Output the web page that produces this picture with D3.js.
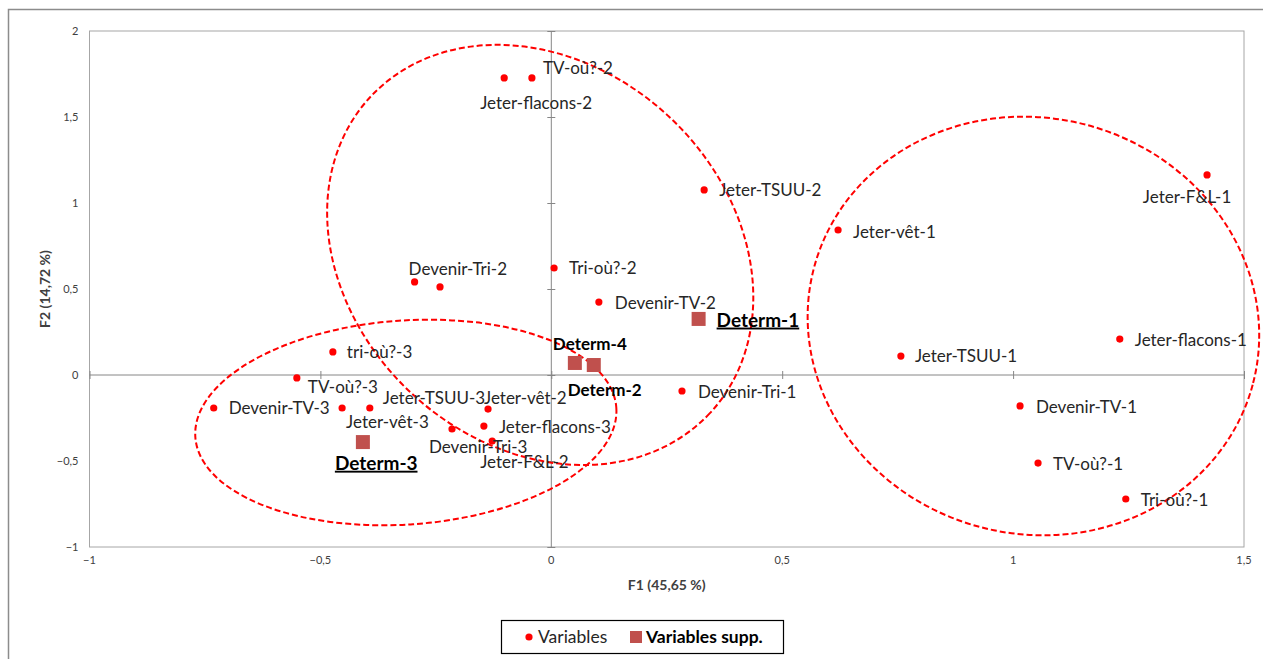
<!DOCTYPE html>
<html>
<head>
<meta charset="utf-8">
<script src="https://cdn.jsdelivr.net/npm/d3@7"></script>
<style>
  body { margin: 0; background: #fff; }
  text { font-family: Lato, "Open Sans", sans-serif; }
</style>
</head>
<body>
<div id="chart"></div>
<script>
// modalités actives
var names = [
    'Jeter-F&L-1', 'Jeter-vêt-1', 'Jeter-flacons-1', 'Jeter-TSUU-1',
    'Devenir-TV-1', 'TV-où?-1', 'Tri-où?-1', 'Devenir-Tri-1',
    'Jeter-TSUU-2', 'TV-où?-2', 'Jeter-flacons-2', 'Devenir-Tri-2',
    'Jeter-F&L-3', 'Tri-où?-2', 'Devenir-TV-2', 'tri-où?-3',
    'TV-où?-3', 'Devenir-TV-3', 'Jeter-vêt-3', 'Jeter-TSUU-3',
    'Jeter-vêt-2', 'Jeter-flacons-3', 'Devenir-Tri-3', 'Jeter-F&L-2'
];
var f1 = [
    1.420, 0.621, 1.231, 0.757,
    1.015, 1.054, 1.244, 0.283,
    0.331, -0.042, -0.102, -0.296,
    -0.241, 0.006, 0.103, -0.473,
    -0.551, -0.731, -0.453, -0.393,
    -0.137, -0.146, -0.215, -0.128
];
var f2 = [
    1.163, 0.843, 0.209, 0.110,
    -0.180, -0.512, -0.721, -0.093,
    1.076, 1.727, 1.727, 0.541,
    0.512, 0.622, 0.424, 0.134,
    -0.017, -0.192, -0.192, -0.192,
    -0.198, -0.297, -0.314, -0.384
];

// modalités supplémentaires
var supp_names = ['Determ-1', 'Determ-4', 'Determ-2', 'Determ-3'];
var supp_f1 = [0.319, 0.051, 0.092, -0.408];
var supp_f2 = [0.326, 0.070, 0.058, -0.390];

var x_ticks = [-1, -0.5, 0, 0.5, 1, 1.5];
var y_ticks = [-1, -0.5, 0, 0.5, 1, 1.5, 2];
var x_title = 'F1 (45,65 %)';
var y_title = 'F2 (14,72 %)';
var legend_labels = ['Variables', 'Variables supp.'];

// ellipses tracées à la main : centre (F1, F2)
var ell_f1 = [-0.024, -0.315, 1.044];
var ell_f2 = [0.698, -0.276, 0.285];

// placement des étiquettes (px) : dx, dy, ancrage
var label_pos = [
    [-20, 22, 'middle'], [15, 2, 'start'], [15, 1, 'start'], [14, 0, 'start'],
    [16, 1, 'start'], [15, 1, 'start'], [15, 1, 'start'], [16, 1, 'start'],
    [15, 0, 'start'], [11, -10, 'start'], [32, 25, 'middle'], [-6, -13, 'start'],
    null, [15, 0, 'start'], [16, 1, 'start'], [14, 0, 'start'],
    [11, 9, 'start'], [15, 0, 'start'], [4, 14, 'start'], [13, -10, 'start'],
    [-4, -11, 'start'], [15, 1, 'start'], [-23, 18, 'start'], [-12, 21, 'start']
];
var supp_label_pos = [
    [18, 1, 'start', true], [-22, -19, 'start', false],
    [-26, 25, 'start', false], [-28, 21, 'start', true]
];
// rayons (px) et rotation (deg)
var ell_shape = [[232, 189, 43], [211, 102, -4], [227, 208, 15]];

var chart_width = 1263;
var chart_height = 659;
var plot = { left: 89.5, right: 1244, top: 31, bottom: 547 };

var fr = d3.formatLocale({ decimal: ',', thousands: ' ', grouping: [3], currency: ['', ' €'] });
var tick_fmt = fr.format('~g');

var svg = d3.select('#chart')
    .append('svg')
    .attr('width', chart_width)
    .attr('height', chart_height);

// cadre extérieur
svg.append('rect')
    .attr('x', 8.5).attr('y', 9.5)
    .attr('width', 1300).attr('height', 700)
    .attr('fill', 'none')
    .attr('stroke', '#8c8c8c')
    .attr('stroke-width', 1.5);

var x_scale = d3.scaleLinear()
    .domain([-1, 1.5])
    .range([plot.left, plot.right]);

var y_scale = d3.scaleLinear()
    .domain([-1, 2])
    .range([plot.bottom, plot.top]);

// zone de tracé
svg.append('rect')
    .attr('x', plot.left).attr('y', plot.top)
    .attr('width', plot.right - plot.left)
    .attr('height', plot.bottom - plot.top)
    .attr('fill', 'none')
    .attr('stroke', '#a6a6a6');

// axes croisés en zéro
var x_axis = d3.axisBottom(x_scale).tickValues(x_ticks).tickSize(8).tickFormat('');
var y_axis = d3.axisLeft(y_scale).tickValues(y_ticks).tickSize(8).tickFormat('');

var gx = svg.append('g')
    .attr('transform', 'translate(0,' + (y_scale(0) - 4) + ')')
    .call(x_axis);
var gy = svg.append('g')
    .attr('transform', 'translate(' + (x_scale(0) + 4) + ',0)')
    .call(y_axis);
[gx, gy].forEach(function (g) {
    g.select('.domain').remove();
    g.selectAll('line').attr('stroke', '#868686');
});
svg.append('line')
    .attr('x1', plot.left).attr('x2', plot.right)
    .attr('y1', y_scale(0)).attr('y2', y_scale(0))
    .attr('stroke', '#868686');
svg.append('line')
    .attr('x1', x_scale(0)).attr('x2', x_scale(0))
    .attr('y1', plot.top).attr('y2', plot.bottom)
    .attr('stroke', '#868686');

// étiquettes des graduations (en bas / à gauche)
svg.selectAll('.xt')
    .data(x_ticks)
    .enter()
    .append('text')
    .attr('x', function (d) { return x_scale(d); })
    .attr('y', plot.bottom + 17)
    .attr('text-anchor', 'middle')
    .attr('font-size', 11)
    .attr('fill', '#404040')
    .text(function (d) { return tick_fmt(d); });

svg.selectAll('.yt')
    .data(y_ticks)
    .enter()
    .append('text')
    .attr('x', plot.left - 11)
    .attr('y', function (d) { return y_scale(d); })
    .attr('dy', '0.35em')
    .attr('text-anchor', 'end')
    .attr('font-size', 11)
    .attr('fill', '#404040')
    .text(function (d) { return tick_fmt(d); });

svg.append('text')
    .attr('x', x_scale(0.25))
    .attr('y', plot.bottom + 43)
    .attr('text-anchor', 'middle')
    .attr('font-size', 14)
    .attr('font-weight', 'bold')
    .attr('fill', '#404040')
    .text(x_title);

svg.append('text')
    .attr('transform', 'translate(50,' + y_scale(0.5) + ') rotate(-90)')
    .attr('text-anchor', 'middle')
    .attr('font-size', 14)
    .attr('font-weight', 'bold')
    .attr('fill', '#404040')
    .text(y_title);

// ellipses
svg.selectAll('.ell')
    .data(ell_f1)
    .enter()
    .append('ellipse')
    .attr('cx', 0).attr('cy', 0)
    .attr('rx', function (d, i) { return ell_shape[i][0]; })
    .attr('ry', function (d, i) { return ell_shape[i][1]; })
    .attr('transform', function (d, i) {
        return 'translate(' + x_scale(d) + ',' + y_scale(ell_f2[i]) + ') rotate(' + ell_shape[i][2] + ')';
    })
    .attr('fill', 'none')
    .attr('stroke', '#ff0000')
    .attr('stroke-width', 2)
    .attr('stroke-dasharray', '6,3');

// points actifs
svg.selectAll('.pt')
    .data(f1)
    .enter()
    .append('circle')
    .attr('cx', function (d) { return x_scale(d); })
    .attr('cy', function (d, i) { return y_scale(f2[i]); })
    .attr('r', 3.6)
    .attr('fill', '#ff0000');

svg.selectAll('.lbl')
    .data(names)
    .enter()
    .append('text')
    .filter(function (d, i) { return label_pos[i] !== null; })
    .attr('x', function (d) { var i = names.indexOf(d); return x_scale(f1[i]) + label_pos[i][0]; })
    .attr('y', function (d) { var i = names.indexOf(d); return y_scale(f2[i]) + label_pos[i][1]; })
    .attr('dy', '0.35em')
    .attr('text-anchor', function (d) { return label_pos[names.indexOf(d)][2]; })
    .attr('font-size', 17)
    .attr('fill', '#262626')
    .text(function (d) { return d; });

// points supplémentaires
svg.selectAll('.sq')
    .data(supp_f1)
    .enter()
    .append('rect')
    .attr('x', function (d) { return x_scale(d) - 7; })
    .attr('y', function (d, i) { return y_scale(supp_f2[i]) - 7; })
    .attr('width', 14)
    .attr('height', 14)
    .attr('fill', '#c0504d');

svg.selectAll('.slbl')
    .data(supp_names)
    .enter()
    .append('text')
    .attr('x', function (d, i) { return x_scale(supp_f1[i]) + supp_label_pos[i][0]; })
    .attr('y', function (d, i) { return y_scale(supp_f2[i]) + supp_label_pos[i][1]; })
    .attr('dy', '0.35em')
    .attr('font-size', function (d, i) { return supp_label_pos[i][3] ? 19 : 17; })
    .attr('font-weight', 'bold')
    .attr('text-decoration', function (d, i) { return supp_label_pos[i][3] ? 'underline' : null; })
    .attr('fill', '#000')
    .text(function (d) { return d; });

// légende
var legend = svg.append('g');
legend.append('rect')
    .attr('x', 501.5).attr('y', 620.5)
    .attr('width', 282).attr('height', 33)
    .attr('fill', '#fff')
    .attr('stroke', '#000')
    .attr('stroke-width', 1.2);
legend.append('circle')
    .attr('cx', 529).attr('cy', 637).attr('r', 3.6)
    .attr('fill', '#ff0000');
legend.append('text')
    .attr('x', 538).attr('y', 637).attr('dy', '0.35em')
    .attr('font-size', 17.5).attr('fill', '#262626')
    .text(legend_labels[0]);
legend.append('rect')
    .attr('x', 630).attr('y', 631).attr('width', 12).attr('height', 12)
    .attr('fill', '#c0504d');
legend.append('text')
    .attr('x', 646).attr('y', 637).attr('dy', '0.35em')
    .attr('font-size', 17.5).attr('font-weight', 'bold').attr('fill', '#000')
    .text(legend_labels[1]);
</script>
</body>
</html>
